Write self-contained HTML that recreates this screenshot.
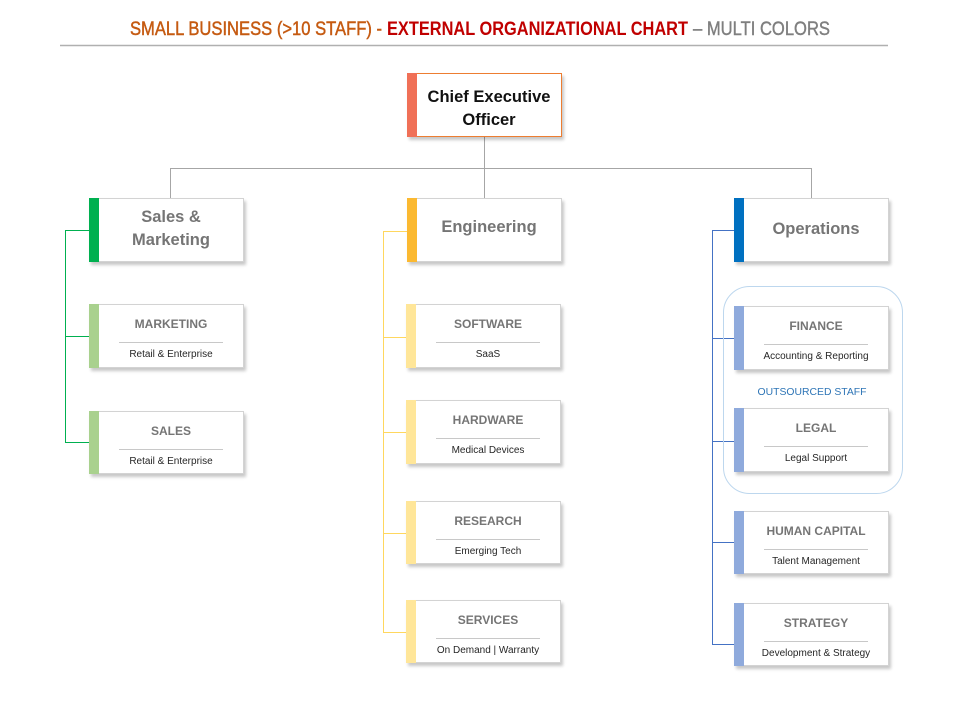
<!DOCTYPE html>
<html><head><meta charset="utf-8">
<style>
*{margin:0;padding:0;box-sizing:border-box}
body{width:960px;height:720px;background:#fff;position:relative;overflow:hidden;font-family:"Liberation Sans",sans-serif}
.b{position:absolute;background:#fff;border:1px solid #d3d3d3;box-shadow:2px 3px 3px rgba(0,0,0,0.22)}
.s{position:absolute;left:-1px;top:-1px;bottom:-1px;width:10px}
.t2{position:absolute;left:9px;right:0;text-align:center;font-weight:bold;font-size:16.5px;line-height:23px;color:#757575}
.st{position:absolute;left:9px;right:0;top:12px;text-align:center;font-weight:bold;font-size:12px;line-height:14px;color:#757575}
.sl{position:absolute;left:50%;margin-left:-48px;width:104px;top:37px;height:1px;background:#c8c8c8}
.sd{position:absolute;left:9px;right:0;top:43px;text-align:center;font-size:10px;line-height:14px;color:#262626}
svg{position:absolute;left:0;top:0}
</style></head><body>
<svg width="960" height="720" viewBox="0 0 960 720">
  <text x="130" y="35" font-family="Liberation Sans, sans-serif" font-size="19" fill="#C55A11" stroke="#C55A11" stroke-width="0.45" textLength="252" lengthAdjust="spacingAndGlyphs">SMALL BUSINESS (&gt;10 STAFF) -</text>
  <text x="387" y="35" font-family="Liberation Sans, sans-serif" font-size="19" font-weight="bold" fill="#C00000" textLength="301" lengthAdjust="spacingAndGlyphs">EXTERNAL ORGANIZATIONAL CHART</text>
  <text x="693" y="35" font-family="Liberation Sans, sans-serif" font-size="19" fill="#7F7F7F" stroke="#7F7F7F" stroke-width="0.4" textLength="137" lengthAdjust="spacingAndGlyphs">– MULTI COLORS</text>
  <line x1="60" y1="45.5" x2="888" y2="45.5" stroke="#b0b0b0" stroke-width="1.5"/>
  <!-- gray connectors -->
  <g stroke="#a6a6a6" stroke-width="1" fill="none">
    <line x1="484.5" y1="137" x2="484.5" y2="198"/>
    <line x1="170.5" y1="168.5" x2="811.5" y2="168.5"/>
    <line x1="170.5" y1="168" x2="170.5" y2="198"/>
    <line x1="811.5" y1="168" x2="811.5" y2="198"/>
  </g>
  <!-- green -->
  <g stroke="#00B050" stroke-width="1" fill="none">
    <line x1="65.5" y1="230" x2="65.5" y2="442.5"/>
    <line x1="65" y1="230.5" x2="89" y2="230.5"/>
    <line x1="65" y1="336.5" x2="89" y2="336.5"/>
    <line x1="65" y1="442.5" x2="89" y2="442.5"/>
  </g>
  <!-- yellow -->
  <g stroke="#FFD75E" stroke-width="1" fill="none">
    <line x1="383.5" y1="231" x2="383.5" y2="632.5"/>
    <line x1="383" y1="231.5" x2="407" y2="231.5"/>
    <line x1="383" y1="337.5" x2="406" y2="337.5"/>
    <line x1="383" y1="432.5" x2="406" y2="432.5"/>
    <line x1="383" y1="533.5" x2="406" y2="533.5"/>
    <line x1="383" y1="632.5" x2="406" y2="632.5"/>
  </g>
  <!-- blue -->
  <g stroke="#4472C4" stroke-width="1" fill="none">
    <line x1="712.5" y1="230" x2="712.5" y2="644.5"/>
    <line x1="712" y1="230.5" x2="734" y2="230.5"/>
    <line x1="712" y1="338.5" x2="734" y2="338.5"/>
    <line x1="712" y1="441.5" x2="734" y2="441.5"/>
    <line x1="712" y1="542.5" x2="734" y2="542.5"/>
    <line x1="712" y1="644.5" x2="734" y2="644.5"/>
  </g>
  <rect x="723.5" y="286.5" width="179" height="207" rx="26" ry="26" fill="none" stroke="#BDD7EE" stroke-width="1"/>
  <text x="812" y="395" text-anchor="middle" font-family="Liberation Sans, sans-serif" font-size="10.5" fill="#2E75B6" textLength="109" lengthAdjust="spacingAndGlyphs">OUTSOURCED  STAFF</text>
</svg>

<!-- CEO -->
<div class="b" style="left:407px;top:73px;width:155px;height:64px;border-color:#ED7D31">
  <div class="s" style="background:#F07057"></div>
  <div class="t2" style="top:12px;color:#111">Chief Executive<br>Officer</div>
</div>

<!-- Level 2 -->
<div class="b" style="left:89px;top:198px;width:155px;height:64px">
  <div class="s" style="background:#00B050"></div>
  <div class="t2" style="top:7px">Sales &amp;<br>Marketing</div>
</div>
<div class="b" style="left:407px;top:198px;width:155px;height:64px">
  <div class="s" style="background:#FBB931"></div>
  <div class="t2" style="top:17px">Engineering</div>
</div>
<div class="b" style="left:734px;top:198px;width:155px;height:64px">
  <div class="s" style="background:#0070C0"></div>
  <div class="t2" style="top:19px">Operations</div>
</div>

<!-- Sales sub -->
<div class="b" style="left:89px;top:304px;width:155px;height:64px">
  <div class="s" style="background:#A9D18E"></div>
  <div class="st">MARKETING</div><div class="sl"></div>
  <div class="sd">Retail &amp; Enterprise</div>
</div>
<div class="b" style="left:89px;top:411px;width:155px;height:63px">
  <div class="s" style="background:#A9D18E"></div>
  <div class="st">SALES</div><div class="sl"></div>
  <div class="sd">Retail &amp; Enterprise</div>
</div>

<!-- Engineering sub -->
<div class="b" style="left:406px;top:304px;width:155px;height:64px">
  <div class="s" style="background:#FFE699"></div>
  <div class="st">SOFTWARE</div><div class="sl"></div>
  <div class="sd">SaaS</div>
</div>
<div class="b" style="left:406px;top:400px;width:155px;height:64px">
  <div class="s" style="background:#FFE699"></div>
  <div class="st">HARDWARE</div><div class="sl"></div>
  <div class="sd">Medical Devices</div>
</div>
<div class="b" style="left:406px;top:501px;width:155px;height:63px">
  <div class="s" style="background:#FFE699"></div>
  <div class="st">RESEARCH</div><div class="sl"></div>
  <div class="sd">Emerging Tech</div>
</div>
<div class="b" style="left:406px;top:600px;width:155px;height:63px">
  <div class="s" style="background:#FFE699"></div>
  <div class="st">SERVICES</div><div class="sl"></div>
  <div class="sd">On Demand | Warranty</div>
</div>

<!-- Operations sub -->
<div class="b" style="left:734px;top:306px;width:155px;height:64px">
  <div class="s" style="background:#8FAADC"></div>
  <div class="st">FINANCE</div><div class="sl"></div>
  <div class="sd">Accounting &amp; Reporting</div>
</div>
<div class="b" style="left:734px;top:408px;width:155px;height:64px">
  <div class="s" style="background:#8FAADC"></div>
  <div class="st">LEGAL</div><div class="sl"></div>
  <div class="sd">Legal Support</div>
</div>
<div class="b" style="left:734px;top:511px;width:155px;height:63px">
  <div class="s" style="background:#8FAADC"></div>
  <div class="st">HUMAN CAPITAL</div><div class="sl"></div>
  <div class="sd">Talent Management</div>
</div>
<div class="b" style="left:734px;top:603px;width:155px;height:63px">
  <div class="s" style="background:#8FAADC"></div>
  <div class="st">STRATEGY</div><div class="sl"></div>
  <div class="sd">Development &amp; Strategy</div>
</div>
</body></html>
